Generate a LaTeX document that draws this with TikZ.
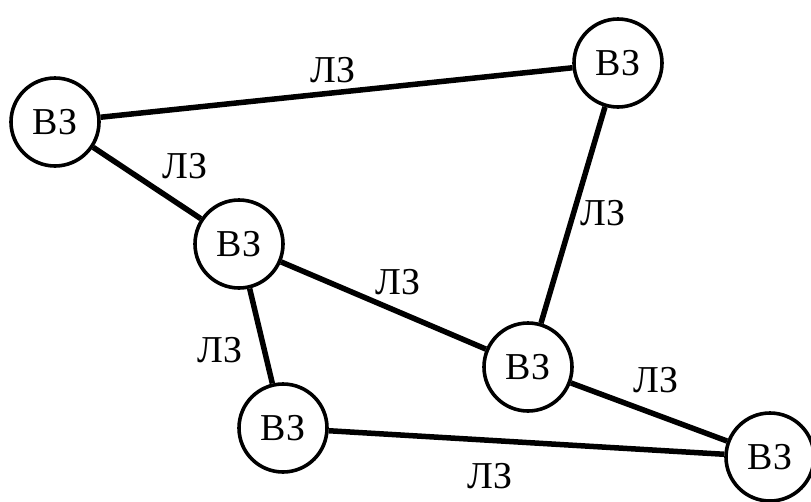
\documentclass[tikz,border=0pt]{standalone}
\usepackage{fontspec}
\setmainfont{Liberation Serif}
\tikzset{
  zone/.style={circle,draw,line width=3.6pt,minimum size=88pt,inner sep=0pt,font=\fontsize{38}{40}\selectfont},
  link/.style={line width=5.5pt},
  lbl/.style={font=\fontsize{38}{40}\selectfont,inner sep=0pt}
}
\begin{document}
\begin{tikzpicture}[x=1pt,y=-1pt]
\useasboundingbox (0,0) rectangle (811,501);

\node[zone] (vz1) at (55,122) {ВЗ};
\node[zone] (vz2) at (618,63) {ВЗ};
\node[zone] (vz3) at (239,244) {ВЗ};
\node[zone] (vz4) at (528,367) {ВЗ};
\node[zone] (vz5) at (283,428) {ВЗ};
\node[zone] (vz6) at (770,457) {ВЗ};

\draw[link] (vz1) -- (vz2);
\draw[link] (vz1) -- (vz3);
\draw[link] (vz2) -- (vz4);
\draw[link] (vz3) -- (vz4);
\draw[link] (vz3) -- (vz5);
\draw[link] (vz4) -- (vz6);
\draw[link] (vz5) -- (vz6);

\node[lbl] (lz1) at (333,70) {ЛЗ};
\node[lbl] (lz2) at (185,166) {ЛЗ};
\node[lbl] (lz3) at (603,213) {ЛЗ};
\node[lbl] (lz4) at (398,282) {ЛЗ};
\node[lbl] (lz5) at (220,350) {ЛЗ};
\node[lbl] (lz6) at (656,380) {ЛЗ};
\node[lbl] (lz7) at (490,476) {ЛЗ};
\end{tikzpicture}
\end{document}
